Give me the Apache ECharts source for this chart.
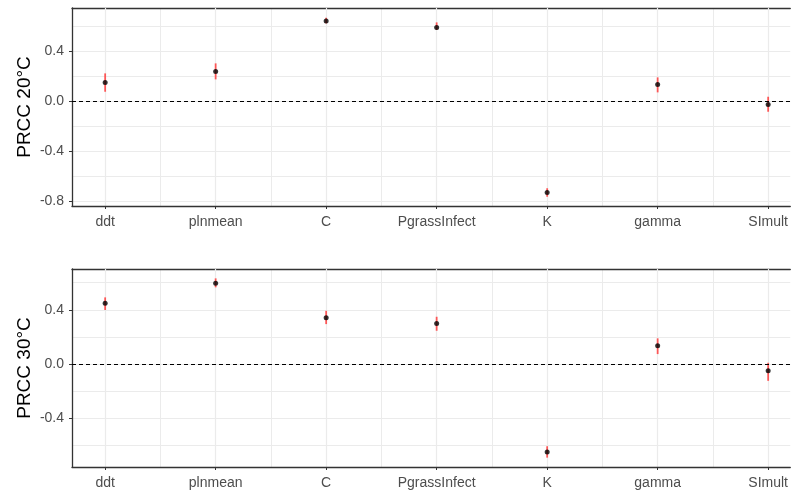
<!DOCTYPE html>
<html>
<head>
<meta charset="utf-8">
<script src="https://cdn.jsdelivr.net/npm/echarts@6/dist/echarts.min.js"></script>
<style>
  html, body { margin: 0; padding: 0; background: #fff; }
  #chart { width: 791px; height: 490px; }
</style>
</head>
<body>
<div id="chart"></div>
<script>
// Parameters on the x axis
const categories = ['ddt', 'plnmean', 'C', 'PgrassInfect', 'K', 'gamma', 'SImult'];

// PRCC estimates with lower / upper bounds at 20 °C
const prcc20 = [0.147, 0.235, 0.638, 0.587, -0.733, 0.131, -0.029];
const lo20   = [0.072, 0.171, 0.619, 0.566, -0.768, 0.067, -0.088];
const hi20   = [0.219, 0.299, 0.664, 0.627, -0.700, 0.187, 0.032];

// PRCC estimates with lower / upper bounds at 30 °C
const prcc30 = [0.448, 0.596, 0.342, 0.300, -0.647, 0.135, -0.049];
const lo30   = [0.399, 0.566, 0.295, 0.246, -0.689, 0.074, -0.123];
const hi30   = [0.492, 0.632, 0.393, 0.349, -0.605, 0.190, 0.010];

// Tick labels
const yTicks20 = [-0.8, -0.4, 0.0, 0.4];
const yTicks30 = [-0.4, 0.0, 0.4];
const yMinor20 = [-0.6, -0.2, 0.2, 0.6];
const yMinor30 = [-0.6, -0.2, 0.2, 0.6];

const xMajor = categories.map((c, i) => i + 1);
const xMinor = categories.slice(1).map((c, i) => i + 1.5);

const FONT = 'Liberation Sans, Arial, sans-serif';
const GRID_COLOR = '#EBEBEB';
const AXIS_COLOR = '#333333';
const LABEL_COLOR = '#4D4D4D';

// the panel runs past the right edge of the canvas, so the visible x range stops at 7.2
const X_MIN = 0.7, X_MAX = 7.2;

const panels = [
  { title: 'PRCC 20°C', top: 8, height: 198, min: -0.842, max: 0.742,
    est: prcc20, lo: lo20, hi: hi20, ticks: yTicks20, minor: yMinor20 },
  { title: 'PRCC 30°C', top: 269, height: 198, min: -0.758, max: 0.701,
    est: prcc30, lo: lo30, hi: hi30, ticks: yTicks30, minor: yMinor30 }
];

const grid = [], xAxis = [], yAxis = [], series = [];

panels.forEach((p, k) => {
  grid.push({ left: 72, top: p.top, right: 0, height: p.height });

  // main x axis: category ticks, labels and major grid lines
  xAxis.push({
    type: 'value', gridIndex: k, min: X_MIN, max: X_MAX, position: 'bottom',
    axisLine: { show: true, onZero: false, lineStyle: { color: AXIS_COLOR, width: 1.3 } },
    axisTick: { show: true, customValues: xMajor, length: 3, lineStyle: { color: AXIS_COLOR } },
    axisLabel: {
      customValues: xMajor, margin: 9, color: LABEL_COLOR, fontFamily: FONT, fontSize: 14,
      formatter: v => categories[Math.round(v) - 1] || ''
    },
    splitLine: { show: true, lineStyle: { color: GRID_COLOR, width: 1.2 } },
    z: 1
  });
  // minor x grid lines between categories; its line is the panel's top border
  xAxis.push({
    type: 'value', gridIndex: k, min: X_MIN, max: X_MAX, position: 'top',
    axisLine: { show: true, onZero: false, lineStyle: { color: AXIS_COLOR, width: 1.3 } },
    axisLabel: { show: false },
    axisTick: { show: false, customValues: xMinor },
    splitLine: { show: true, lineStyle: { color: GRID_COLOR, width: 1 } },
    z: 0
  });

  yAxis.push({
    type: 'value', gridIndex: k, min: p.min, max: p.max,
    name: p.title, nameLocation: 'middle', nameGap: 38, nameRotate: 90,
    nameMoveOverlap: false,
    nameTextStyle: { color: '#000', fontFamily: FONT, fontSize: 19 },
    axisLine: { show: true, onZero: false, lineStyle: { color: AXIS_COLOR, width: 1.3 } },
    axisTick: { show: true, customValues: p.ticks, length: 3, lineStyle: { color: AXIS_COLOR } },
    axisLabel: {
      customValues: p.ticks, margin: 8, color: LABEL_COLOR, fontFamily: FONT, fontSize: 14,
      formatter: v => v.toFixed(1)
    },
    splitLine: { show: true, lineStyle: { color: GRID_COLOR, width: 1.2 } },
    z: 1
  });
  yAxis.push({
    type: 'value', gridIndex: k, min: p.min, max: p.max,
    axisLine: { show: false }, axisLabel: { show: false },
    axisTick: { show: false, customValues: p.minor },
    splitLine: { show: true, lineStyle: { color: GRID_COLOR, width: 1 } },
    z: 0
  });

  const xi = k * 2, yi = k * 2;

  // error bars
  series.push({
    type: 'custom', xAxisIndex: xi, yAxisIndex: yi, z: 3,
    data: categories.map((c, i) => [i + 1, p.lo[i], p.hi[i]]),
    renderItem: (params, api) => {
      const a = api.coord([api.value(0), api.value(1)]);
      const b = api.coord([api.value(0), api.value(2)]);
      return {
        type: 'line',
        shape: { x1: a[0], y1: a[1], x2: b[0], y2: b[1] },
        style: { stroke: 'rgba(255,50,50,0.8)', lineWidth: 1.8 }
      };
    },
    silent: true
  });

  // point estimates plus the dashed zero reference
  series.push({
    type: 'scatter', xAxisIndex: xi, yAxisIndex: yi, z: 4,
    symbol: 'circle', symbolSize: 5,
    itemStyle: { color: '#000' },
    data: categories.map((c, i) => [i + 1, p.est[i]]),
    markLine: {
      silent: true, symbol: 'none', label: { show: false },
      lineStyle: { color: '#000', type: [4, 3], width: 1.1 },
      data: [{ yAxis: 0 }]
    }
  });
});

const chart = echarts.init(document.getElementById('chart'), null, { renderer: 'canvas' });
chart.setOption({
  animation: false,
  backgroundColor: '#fff',
  grid, xAxis, yAxis, series
});
</script>
</body>
</html>
